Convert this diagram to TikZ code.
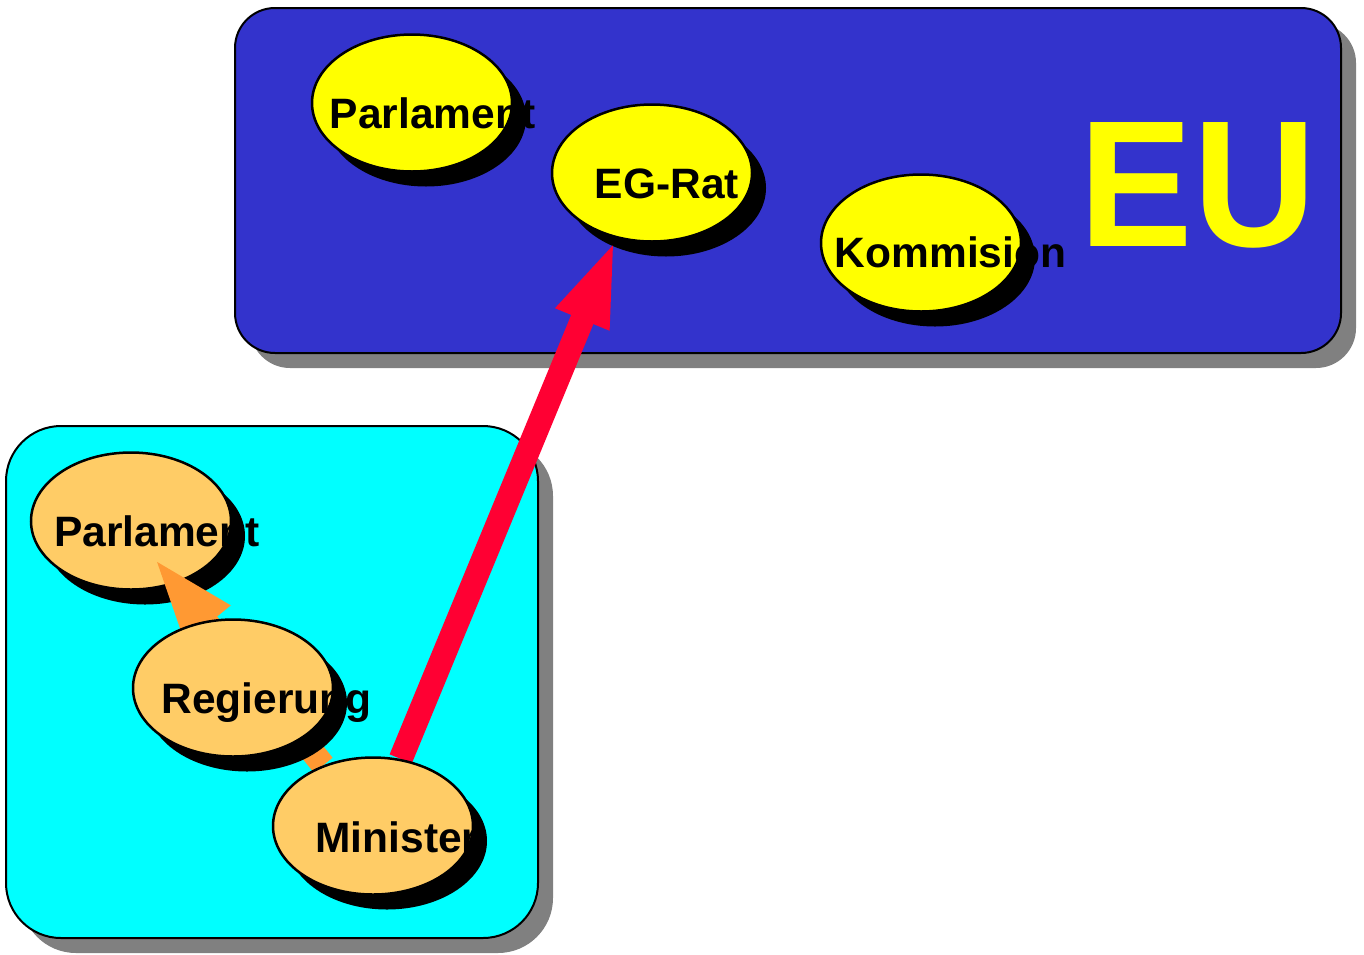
\documentclass[tikz,border=0pt]{standalone}
\usepackage{fontspec}
\setmainfont{Liberation Sans}
\usetikzlibrary{shapes.geometric,shadows,arrows.meta}
\definecolor{eublue}{HTML}{3333CC}
\definecolor{natcyan}{HTML}{00FFFF}
\definecolor{euyellow}{HTML}{FFFF00}
\definecolor{natorange}{HTML}{FFCC66}
\definecolor{linkred}{HTML}{FF0033}
\definecolor{linkorange}{HTML}{FF9933}
\definecolor{shadowgray}{HTML}{808080}
\pgfdeclarelayer{background}
\pgfdeclarelayer{foreground}
\pgfsetlayers{background,main,foreground}
\begin{document}
\begin{tikzpicture}[x=1pt,y=-1pt,
  panel/.style={draw=black,line width=2pt,fill=#1,inner sep=0pt,
    drop shadow={shadow xshift=15pt,shadow yshift=-15pt,fill=shadowgray,opacity=1}},
  oval/.style={ellipse,draw=black,line width=2.5pt,fill=#1,inner sep=0pt,
    minimum width=200pt,minimum height=137pt,
    drop shadow={shadow xshift=14pt,shadow yshift=-15pt,fill=black,opacity=1}},
  lbl/.style={font=\fontsize{42.5}{48}\selectfont\bfseries,anchor=base,inner sep=0pt},
  link/.style={draw=#1,line width=24pt,-{Triangle[length=88pt,width=51pt]}}]
\useasboundingbox (0,0) rectangle (1364,954);
%
\begin{pgfonlayer}{background}
\node[panel=eublue,rounded corners=40pt,minimum width=1106pt,minimum height=345pt] (eubox) at (788,180.5) {};
\node[panel=natcyan,rounded corners=55pt,minimum width=532pt,minimum height=512pt] (natbox) at (272,682) {};
\end{pgfonlayer}
\node[font=\fontsize{170}{170}\selectfont\bfseries,text=euyellow,anchor=base,inner sep=0pt] (eulbl) at (1198,246) {\scalebox{1}[1.06]{EU}};
%
\node[oval=euyellow] (euparl) at (412,103) {};
\node[lbl] (euparl-t) at (432.5,128) {Parlament};
\node[oval=euyellow] (egrat) at (652,173) {};
\node[lbl] (egrat-t) at (667,198) {EG-Rat};
\node[oval=euyellow] (kommision) at (921,243) {};
\node[lbl] (kommision-t) at (950.5,267) {Kommision};
%
\node[oval=natorange] (parl) at (131,521) {};
\node[lbl] (parl-t) at (157,546) {Parlament};
\begin{pgfonlayer}{foreground}
\node[oval=natorange] (regierung) at (233,688) {};
\node[lbl] (regierung-t) at (266.5,713) {Regierung};
\node[oval=natorange] (minister) at (373,826) {};
\node[lbl] (minister-t) at (397,852) {Minister};
\end{pgfonlayer}
%
\draw[link=linkorange,shorten >=-36pt] (minister) -- (parl.305);
\draw[link=linkred] (minister) -- (egrat.241);
\end{tikzpicture}
\end{document}
